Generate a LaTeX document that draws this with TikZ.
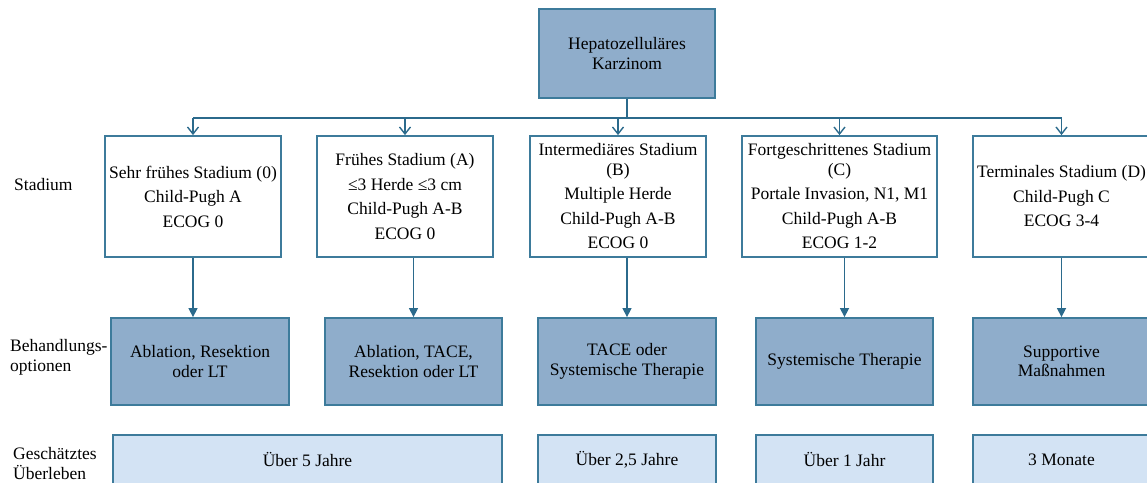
\documentclass[tikz,border=0pt]{standalone}
\usepackage{fontspec}
\setmainfont{LiberationSerif}[Extension=.ttf, UprightFont=*-Regular, BoldFont=*-Bold, ItalicFont=*-Italic, BoldItalicFont=*-BoldItalic]
\usetikzlibrary{arrows.meta}
\definecolor{darkfill}{HTML}{8FADCB}
\definecolor{lightfill}{HTML}{D3E3F4}
\definecolor{edgecol}{HTML}{3D7B9B}
\definecolor{linecol}{HTML}{2B6A8C}
\tikzset{
  boxbase/.style={draw=edgecol, line width=1.8pt, inner sep=0pt, align=center,
    font=\rmfamily\fontsize{17.5}{19.5}\selectfont},
  stagebox/.style={boxbase, fill=white},
  treatbox/.style={boxbase, fill=darkfill},
  survbox/.style={boxbase, fill=lightfill},
  rowlabel/.style={align=left, inner sep=0pt, anchor=west, font=\rmfamily\fontsize{17.5}{20}\selectfont},
  openarrow/.style={draw=linecol, line width=1.4pt, -{Straight Barb[length=7pt,width=11pt,line width=1.4pt]}},
  fillarrow/.style={draw=linecol, line width=1.4pt, -{Triangle[length=9pt,width=9pt]}},
  trunk/.style={draw=linecol, line width=1.6pt}
}
\begin{document}
\begin{tikzpicture}[x=1pt,y=-1pt]
\useasboundingbox (0,0) rectangle (1147,482);
% top box
\node[treatbox, minimum width=176pt, minimum height=89pt] (top) at (627,53.5)
  {Hepatozelluläres\\Karzinom};
% stage boxes (y 136..257)
\node[stagebox, minimum width=176pt, minimum height=121pt] (s1) at (193,196.5)
  {Sehr frühes Stadium (0)\\[5pt]Child-Pugh A\\[5pt]ECOG 0};
\node[stagebox, minimum width=176pt, minimum height=121pt] (s2) at (405,196.5)
  {Frühes Stadium (A)\\[5pt]≤3 Herde ≤3 cm\\[5pt]Child-Pugh A-B\\[5pt]ECOG 0};
\node[stagebox, minimum width=176pt, minimum height=121pt] (s3) at (618,196.5)
  {Intermediäres Stadium\\(B)\\[5pt]Multiple Herde\\[5pt]Child-Pugh A-B\\[5pt]ECOG 0};
\node[stagebox, minimum width=195pt, minimum height=121pt] (s4) at (839.5,196.5)
  {Fortgeschrittenes Stadium\\(C)\\[5pt]Portale Invasion, N1, M1\\[5pt]Child-Pugh A-B\\[5pt]ECOG 1-2};
\node[stagebox, minimum width=177pt, minimum height=121pt] (s5) at (1061.5,196.5)
  {Terminales Stadium (D)\\[5pt]Child-Pugh C\\[5pt]ECOG 3-4};
% treatment boxes (y 318..405)
\node[treatbox, minimum width=178pt, minimum height=87pt] (t1) at (200,361.5)
  {Ablation, Resektion\\oder LT};
\node[treatbox, minimum width=177pt, minimum height=87pt] (t2) at (413.5,361.5)
  {Ablation, TACE,\\Resektion oder LT};
\node[treatbox, minimum width=178pt, minimum height=87pt] (t3) at (627,361.5)
  {TACE oder\\Systemische Therapie};
\node[treatbox, minimum width=177pt, minimum height=87pt] (t4) at (844.5,361.5)
  {Systemische Therapie};
\node[treatbox, minimum width=177pt, minimum height=87pt] (t5) at (1061.5,361.5)
  {Supportive\\Maßnahmen};
% survival boxes (y 435..484)
\node[survbox, minimum width=389pt, minimum height=49pt] (u1) at (307.5,459.5) {Über 5 Jahre};
\node[survbox, minimum width=178pt, minimum height=49pt] (u3) at (627,459.5) {Über 2,5 Jahre};
\node[survbox, minimum width=177pt, minimum height=49pt] (u4) at (844.5,459.5) {Über 1 Jahr};
\node[survbox, minimum width=177pt, minimum height=49pt] (u5) at (1061.5,459.5) {3 Monate};
% row labels
\node[rowlabel] (l1) at (14,185) {Stadium};
\node[rowlabel] (l2) at (10,357) {Behandlungs-\\optionen};
\node[rowlabel] (l3) at (13,464) {Geschätztes\\Überleben};
% connectors
\draw[trunk] (top.south) -- ++(0,19) coordinate (j);
\draw[trunk] (s1.north |- j) -- (s5.north |- j);
\foreach \s in {s1,s2,s3,s4,s5}
  \draw[openarrow] (\s.north |- j) -- (\s.north);
\draw[fillarrow] (s1.south) -- (s1.south |- t1.north);
\draw[fillarrow] (t2.north |- s2.south) -- (t2.north);
\draw[fillarrow] (t3.north |- s3.south) -- (t3.north);
\draw[fillarrow] (t4.north |- s4.south) -- (t4.north);
\draw[fillarrow] (t5.north |- s5.south) -- (t5.north);
\end{tikzpicture}
\end{document}
